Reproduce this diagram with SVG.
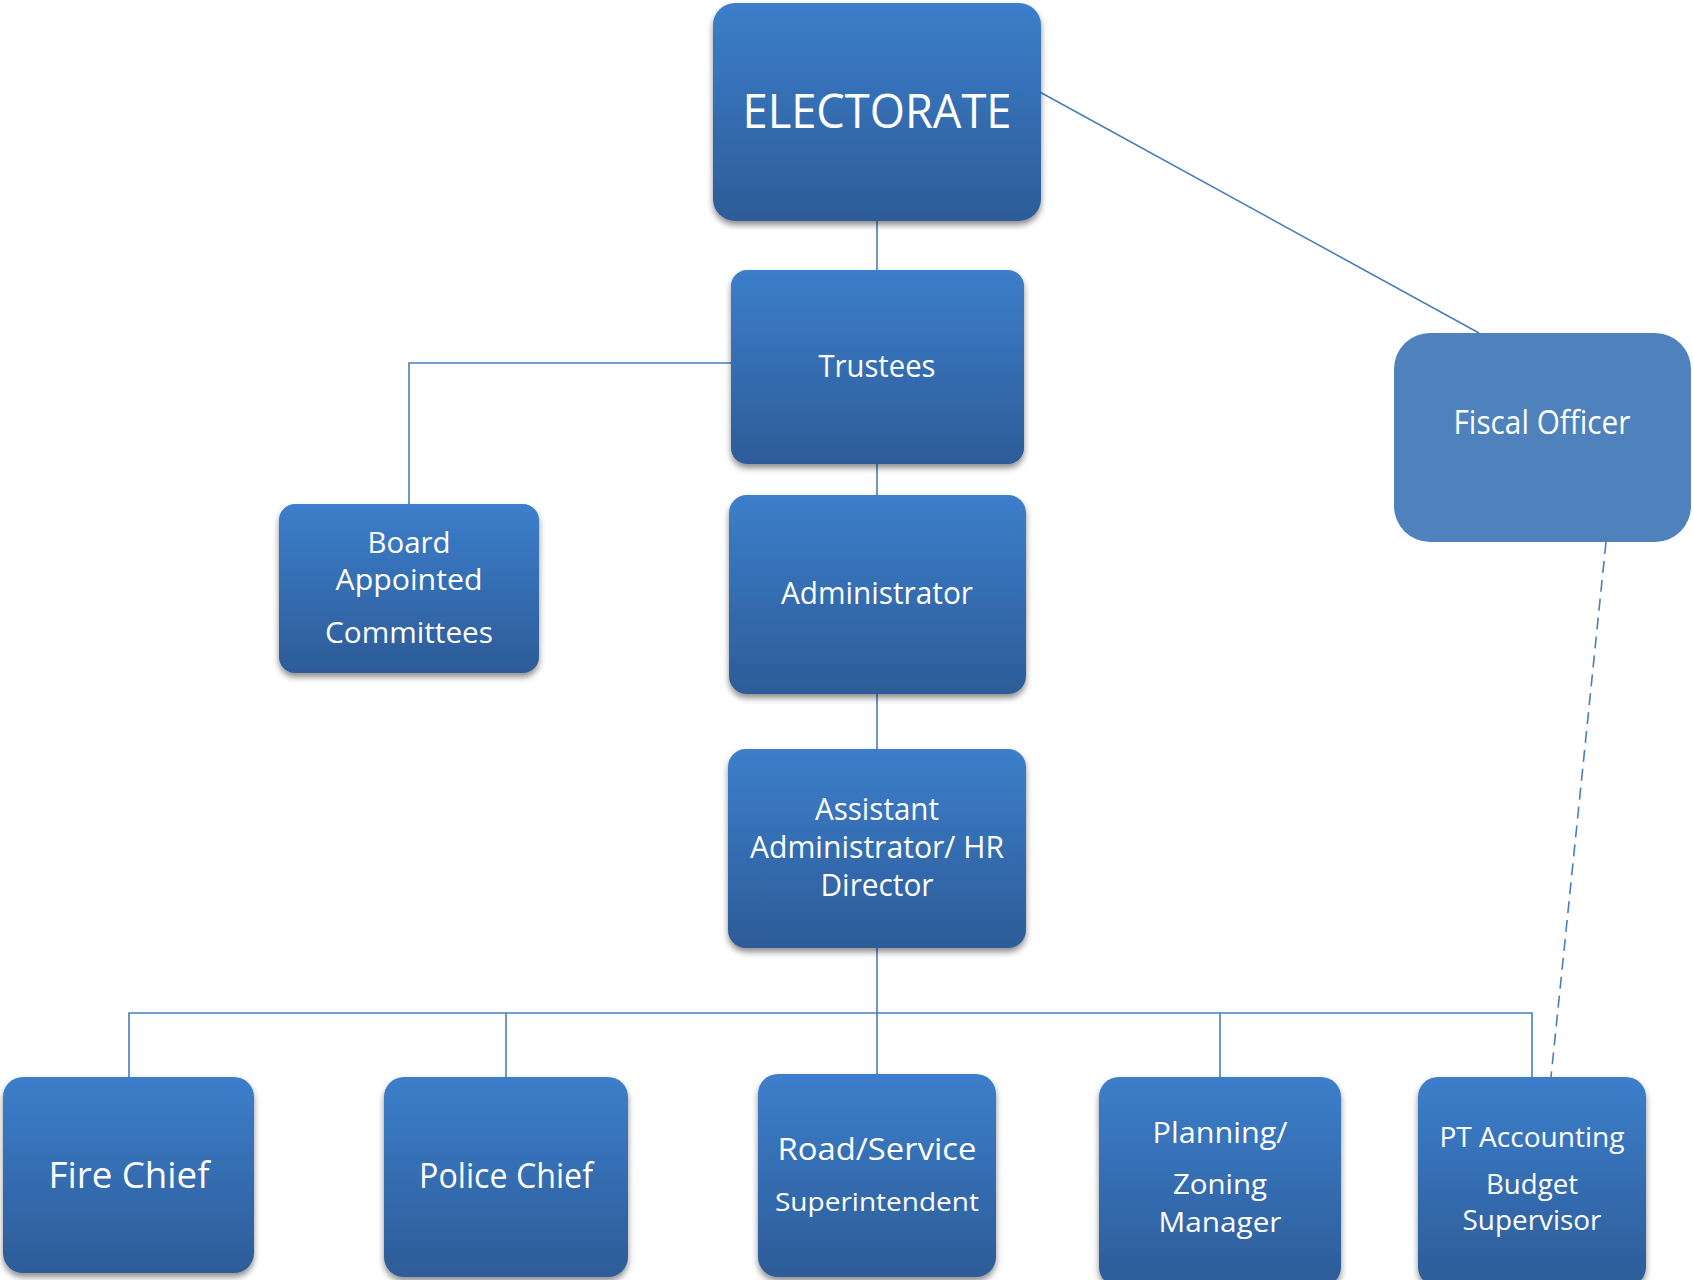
<svg xmlns="http://www.w3.org/2000/svg" width="1693" height="1280" viewBox="0 0 1693 1280">
<defs>
<linearGradient id="g" x1="0" y1="0" x2="0" y2="1">
<stop offset="0" stop-color="#3C7ECB"/>
<stop offset="1" stop-color="#2D5C98"/>
</linearGradient>
<filter id="sh" x="-10%" y="-10%" width="120%" height="125%">
<feDropShadow dx="0" dy="4" stdDeviation="3" flood-color="#000" flood-opacity="0.45"/>
</filter>
</defs>
<style>
.box{fill:url(#g);filter:url(#sh)}
.flat{fill:#4F81BD}
.t{font-family:"Open Sans","Noto Sans",sans-serif;fill:#fff;text-anchor:middle}
.ln{stroke:#4A7EBB;stroke-width:1.6;fill:none}
.dash{stroke:#4A7EBB;stroke-width:1.6;fill:none;stroke-dasharray:12 7}
</style>
<rect width="1693" height="1280" fill="#fff"/>
<g id="connectors">
<line class="ln" x1="877" y1="221" x2="877" y2="270"/>
<polyline class="ln" points="731,363 409,363 409,504"/>
<line class="ln" x1="877" y1="464" x2="877" y2="495"/>
<line class="ln" x1="877" y1="694" x2="877" y2="749"/>
<line class="ln" x1="877" y1="948" x2="877" y2="1013"/>
<polyline class="ln" points="129,1078 129,1013 1532,1013 1532,1078"/>
<line class="ln" x1="506" y1="1013" x2="506" y2="1078"/>
<line class="ln" x1="877" y1="1013" x2="877" y2="1074"/>
<line class="ln" x1="1220" y1="1013" x2="1220" y2="1078"/>
<line class="ln" x1="1038" y1="91" x2="1479" y2="333"/>
<line class="dash" x1="1606" y1="542" x2="1551" y2="1077"/>
</g>
<g id="electorate">
<rect class="box" x="713" y="3" width="328" height="218" rx="22"/>
<text class="t" x="877" y="128" font-size="48" textLength="269" lengthAdjust="spacingAndGlyphs">ELECTORATE</text>
</g>
<g id="trustees">
<rect class="box" x="731" y="270" width="293" height="194" rx="16"/>
<text class="t" x="877" y="377" font-size="31" textLength="117" lengthAdjust="spacingAndGlyphs">Trustees</text>
</g>
<g id="fiscal-officer">
<rect class="flat" x="1394" y="333" width="297" height="209" rx="36"/>
<text class="t" x="1542" y="434" font-size="32" textLength="177" lengthAdjust="spacingAndGlyphs">Fiscal Officer</text>
</g>
<g id="board-appointed-committees">
<rect class="box" x="279" y="504" width="260" height="169" rx="16"/>
<text class="t" x="409" y="553" font-size="29" textLength="83" lengthAdjust="spacingAndGlyphs">Board</text>
<text class="t" x="409" y="590" font-size="29" textLength="147" lengthAdjust="spacingAndGlyphs">Appointed</text>
<text class="t" x="409" y="643" font-size="29" textLength="168" lengthAdjust="spacingAndGlyphs">Committees</text>
</g>
<g id="administrator">
<rect class="box" x="729" y="495" width="297" height="199" rx="18"/>
<text class="t" x="877" y="604" font-size="31" textLength="192" lengthAdjust="spacingAndGlyphs">Administrator</text>
</g>
<g id="assistant-administrator">
<rect class="box" x="728" y="749" width="298" height="199" rx="18"/>
<text class="t" x="877" y="820" font-size="31" textLength="124" lengthAdjust="spacingAndGlyphs">Assistant</text>
<text class="t" x="877" y="858" font-size="31" textLength="254" lengthAdjust="spacingAndGlyphs">Administrator/ HR</text>
<text class="t" x="877" y="896" font-size="31" textLength="113" lengthAdjust="spacingAndGlyphs">Director</text>
</g>
<g id="fire-chief">
<rect class="box" x="3" y="1077" width="251" height="196" rx="20"/>
<text class="t" x="129" y="1188" font-size="36" textLength="161" lengthAdjust="spacingAndGlyphs">Fire Chief</text>
</g>
<g id="police-chief">
<rect class="box" x="384" y="1077" width="244" height="200" rx="20"/>
<text class="t" x="506" y="1188" font-size="34" textLength="174" lengthAdjust="spacingAndGlyphs">Police Chief</text>
</g>
<g id="road-service-superintendent">
<rect class="box" x="758" y="1074" width="238" height="203" rx="20"/>
<text class="t" x="877" y="1160" font-size="31" textLength="199" lengthAdjust="spacingAndGlyphs">Road/Service</text>
<text class="t" x="877" y="1211" font-size="25" textLength="204" lengthAdjust="spacingAndGlyphs">Superintendent</text>
</g>
<g id="planning-zoning-manager">
<rect class="box" x="1099" y="1077" width="242" height="210" rx="20"/>
<text class="t" x="1220" y="1143" font-size="29" textLength="135" lengthAdjust="spacingAndGlyphs">Planning/</text>
<text class="t" x="1220" y="1194" font-size="28" textLength="94" lengthAdjust="spacingAndGlyphs">Zoning</text>
<text class="t" x="1220" y="1232" font-size="28" textLength="123" lengthAdjust="spacingAndGlyphs">Manager</text>
</g>
<g id="pt-accounting-budget-supervisor">
<rect class="box" x="1418" y="1077" width="228" height="210" rx="20"/>
<text class="t" x="1532" y="1147" font-size="27" textLength="185" lengthAdjust="spacingAndGlyphs">PT Accounting</text>
<text class="t" x="1532" y="1194" font-size="27" textLength="92" lengthAdjust="spacingAndGlyphs">Budget</text>
<text class="t" x="1532" y="1230" font-size="27" textLength="139" lengthAdjust="spacingAndGlyphs">Supervisor</text>
</g>
</svg>
